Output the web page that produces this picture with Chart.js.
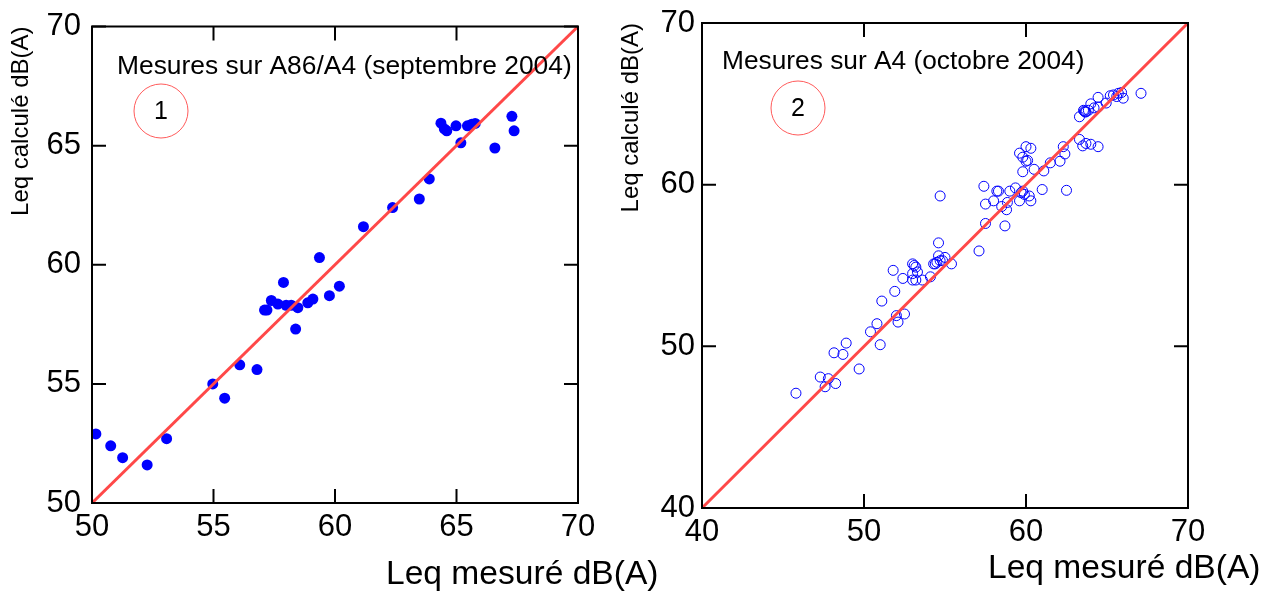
<!DOCTYPE html>
<html>
<head>
<meta charset="utf-8">
<title>Leq calculé / mesuré</title>
<script src="https://cdn.jsdelivr.net/npm/chart.js@4/dist/chart.umd.min.js"></script>
<style>
    body { margin: 0; background: #fff; }
    #wrap { position: relative; width: 1274px; height: 591px; overflow: hidden; }
    canvas { position: absolute; top: 0; }
    #chart1 { left: 0; }
    #chart2 { left: 610px; }
</style>
</head>
<body>
<div id="wrap">
    <canvas id="chart1" width="680" height="591"></canvas>
    <canvas id="chart2" width="664" height="591"></canvas>
</div>
<script>
'use strict';

// A86/A4 (septembre 2004)
var leftMeasured = [50.16, 50.77, 51.26, 52.27, 53.07, 54.97, 55.46, 56.08, 56.79, 58.38,
    57.1, 57.2, 57.38, 57.65, 57.88, 57.99, 58.2, 58.47, 58.88, 59.09,
    59.36, 59.77, 60.18, 61.17, 62.37, 63.47, 63.88, 64.36, 64.5, 64.6,
    64.98, 65.18, 65.45, 65.63, 65.77, 66.58, 67.28, 67.37];
var leftCalculated = [52.9, 52.4, 51.9, 51.6, 52.7, 55.0, 54.4, 55.8, 55.6, 57.3,
    58.1, 58.1, 58.5, 58.35, 59.26, 58.3, 58.3, 58.2, 58.4, 58.56,
    60.3, 58.7, 59.1, 61.6, 62.4, 62.76, 63.6, 65.94, 65.7, 65.62,
    65.83, 65.12, 65.83, 65.9, 65.93, 64.9, 66.23, 65.62];

// A4 (octobre 2004)
var rightMeasured = [45.8, 47.3, 47.8, 47.6, 48.25, 48.15, 48.7, 48.9, 49.7, 50.4,
    50.8, 51.0, 51.1, 51.9, 52.0, 52.1, 52.5, 51.8, 52.4, 53.0,
    53.0, 53.2, 53.3, 53.0, 53.2, 53.6, 54.1, 54.3, 54.6, 54.6,
    54.5, 54.7, 54.85, 55.0, 55.4, 54.7, 57.1, 57.4, 57.5, 57.5,
    58.0, 58.2, 58.3, 58.5, 58.7, 58.8, 58.85, 59.0, 59.35, 59.6,
    59.7, 59.8, 60.2, 60.3, 61.0, 62.5, 59.8, 60.5, 61.1, 61.5,
    62.1, 62.4, 62.3, 59.6, 60.0, 60.3, 60.1, 60.0, 59.8, 63.3,
    63.5, 63.7, 64.0, 64.45, 63.3, 63.55, 63.7, 63.85, 64.0, 64.2,
    64.45, 64.45, 64.95, 65.2, 65.4, 65.6, 65.7, 65.9, 66.0, 67.1,
    63.6, 63.65, 53.1, 54.4, 59.9];
var rightCalculated = [47.1, 48.1, 48.0, 47.5, 47.7, 49.6, 49.5, 50.2, 48.6, 50.9,
    51.4, 50.1, 52.8, 53.4, 51.9, 51.5, 52.0, 54.7, 54.2, 55.1,
    54.5, 54.9, 54.6, 54.1, 54.1, 54.1, 54.3, 55.1, 56.4, 55.6,
    55.2, 55.3, 55.3, 55.5, 55.1, 59.3, 55.9, 59.9, 58.8, 57.6,
    59.0, 59.6, 59.6, 58.65, 57.45, 58.45, 58.9, 59.6, 59.8, 59.0,
    59.5, 59.6, 59.3, 59.0, 59.7, 59.65, 60.8, 60.95, 60.85, 61.35,
    61.45, 61.9, 62.35, 61.95, 62.35, 62.25, 61.5, 61.45, 61.7, 62.8,
    62.4, 62.55, 62.5, 62.35, 64.2, 64.6, 64.5, 64.6, 65.0, 64.75,
    65.4, 64.8, 65.05, 65.5, 65.55, 65.45, 65.65, 65.7, 65.35, 65.65,
    64.55, 64.5, 55.0, 55.1, 59.4];

var leftTicks = [50, 55, 60, 65, 70];
var rightTicks = [40, 50, 60, 70];
var leftDiagonal = [50, 70];
var rightDiagonal = [40, 70];

var fontFamily = '"Liberation Sans", Arial, sans-serif';

function toPoints(xs, ys) {
    var pts = [];
    for (var i = 0; i < xs.length; i++) {
        pts.push({ x: xs[i], y: ys[i] });
    }
    return pts;
}

// frame, inward tick marks and the extra texts
var framePlugin = {
    id: 'frame',
    afterDraw: function (chart) {
        var ctx = chart.ctx;
        var a = chart.chartArea;
        var opts = chart.options.plugins.frame;
        var xs = chart.scales.x;
        var ys = chart.scales.y;
        var len = 14;
        ctx.save();
        ctx.strokeStyle = '#000';
        ctx.lineWidth = 2;
        ctx.strokeRect(a.left, a.top, a.right - a.left, a.bottom - a.top);
        ctx.beginPath();
        xs.ticks.forEach(function (t) {
            var px = xs.getPixelForValue(t.value);
            ctx.moveTo(px, a.bottom); ctx.lineTo(px, a.bottom - len);
            ctx.moveTo(px, a.top); ctx.lineTo(px, a.top + len);
        });
        ys.ticks.forEach(function (t) {
            var py = ys.getPixelForValue(t.value);
            ctx.moveTo(a.left, py); ctx.lineTo(a.left + len, py);
            ctx.moveTo(a.right, py); ctx.lineTo(a.right - len, py);
        });
        ctx.stroke();

        ctx.fillStyle = '#000';
        ctx.textBaseline = 'alphabetic';
        ctx.textAlign = 'left';
        ctx.font = opts.titleSize + 'px ' + fontFamily;
        ctx.fillText(opts.xTitle, opts.titleX, opts.titleY);

        ctx.font = opts.noteSize + 'px ' + fontFamily;
        ctx.fillText(opts.note, opts.noteX, opts.noteY);

        ctx.beginPath();
        ctx.strokeStyle = '#ff5a5a';
        ctx.lineWidth = 1;
        ctx.arc(opts.circleX, opts.circleY, 27, 0, Math.PI * 2);
        ctx.stroke();
        ctx.textAlign = 'center';
        ctx.textBaseline = 'middle';
        ctx.font = '25px ' + fontFamily;
        ctx.fillText(opts.number, opts.circleX, opts.circleY + 1);
        ctx.restore();
    }
};

function makeChart(id, cfg) {
    var ctx = document.getElementById(id).getContext('2d');
    return new Chart(ctx, {
        type: 'scatter',
        data: {
            datasets: [{
                data: toPoints(cfg.measured, cfg.calculated),
                pointRadius: cfg.filled ? 5.5 : 5,
                pointHoverRadius: 5,
                backgroundColor: cfg.filled ? '#0000ff' : 'rgba(0,0,0,0)',
                borderColor: '#0000ff',
                borderWidth: cfg.filled ? 0 : 1,
                order: 1
            }, {
                type: 'line',
                data: toPoints(cfg.diagonal, cfg.diagonal),
                borderColor: '#ff4848',
                borderWidth: 3,
                pointRadius: 0,
                fill: false,
                order: 0
            }]
        },
        options: {
            responsive: false,
            devicePixelRatio: 1,
            animation: false,
            layout: { padding: cfg.padding },
            plugins: {
                legend: { display: false },
                tooltip: { enabled: false },
                frame: cfg.frame
            },
            scales: {
                x: {
                    type: 'linear',
                    min: cfg.ticks[0],
                    max: cfg.ticks[cfg.ticks.length - 1],
                    afterBuildTicks: function (s) {
                        s.ticks = cfg.ticks.map(function (v) { return { value: v }; });
                    },
                    afterFit: function (s) { s.height = 45; },
                    grid: { display: false, drawTicks: false },
                    border: { display: false },
                    ticks: {
                        color: '#000',
                        padding: 9,
                        maxRotation: 0,
                        autoSkip: false,
                        font: { family: fontFamily, size: 31, lineHeight: 1 }
                    }
                },
                y: {
                    type: 'linear',
                    min: cfg.ticks[0],
                    max: cfg.ticks[cfg.ticks.length - 1],
                    afterBuildTicks: function (s) {
                        s.ticks = cfg.ticks.map(function (v) { return { value: v }; });
                    },
                    afterFit: function (s) { s.width = 92; },
                    grid: { display: false, drawTicks: false },
                    border: { display: false },
                    title: {
                        display: true,
                        text: 'Leq calculé dB(A)',
                        align: 'end',
                        color: '#000',
                        padding: { top: 7, bottom: 0 },
                        font: { family: fontFamily, size: 24, lineHeight: 1.2 }
                    },
                    ticks: {
                        color: '#000',
                        padding: cfg.yPad,
                        autoSkip: false,
                        font: { family: fontFamily, size: 31, lineHeight: 1 }
                    }
                }
            }
        },
        plugins: [framePlugin]
    });
}

makeChart('chart1', {
    measured: leftMeasured,
    calculated: leftCalculated,
    diagonal: leftDiagonal,
    ticks: leftTicks,
    filled: true,
    yPad: 11,
    padding: { left: 0, top: 17, right: 102, bottom: 43 },
    frame: {
        xTitle: 'Leq mesuré dB(A)', titleSize: 33.6, titleX: 386, titleY: 584,
        note: 'Mesures sur A86/A4 (septembre 2004)', noteSize: 26.4, noteX: 117, noteY: 74,
        number: '1', circleX: 161, circleY: 111
    }
});

makeChart('chart2', {
    measured: rightMeasured,
    calculated: rightCalculated,
    diagonal: rightDiagonal,
    ticks: rightTicks,
    filled: false,
    yPad: 7,
    padding: { left: 0, top: 23, right: 86, bottom: 38 },
    frame: {
        xTitle: 'Leq mesuré dB(A)', titleSize: 33.6, titleX: 378, titleY: 578,
        note: 'Mesures sur A4 (octobre 2004)', noteSize: 26.3, noteX: 112, noteY: 69,
        number: '2', circleX: 188, circleY: 108
    }
});
</script>
</body>
</html>
